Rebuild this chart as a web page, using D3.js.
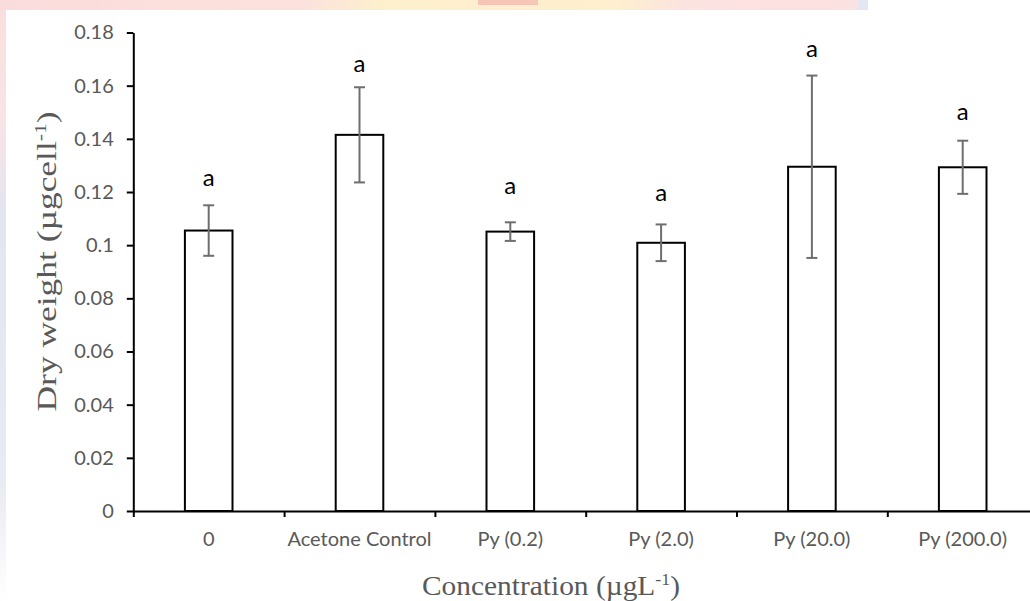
<!DOCTYPE html>
<html>
<head>
<meta charset="utf-8">
<script src="https://cdn.jsdelivr.net/npm/d3@7"></script>
<style>
  html, body { margin: 0; padding: 0; background: #ffffff; }
  svg { display: block; }
</style>
</head>
<body>
<svg id="chart" width="1030" height="601"></svg>
<script>
// Dry weight per cell for each treatment (mean ± error)
const categories = ["0", "Acetone Control", "Py (0.2)", "Py (2.0)", "Py (20.0)", "Py (200.0)"];
const means      = [0.1055, 0.1415, 0.1051, 0.1009, 0.1295, 0.1293];
const errors     = [0.0095, 0.0179, 0.0035, 0.0069, 0.0343, 0.0100];
const groups     = ["a", "a", "a", "a", "a", "a"];
const groupAt    = [0.1257, 0.1687, 0.1230, 0.1201, 0.1742, 0.1506];
const yTicks     = [0, 0.02, 0.04, 0.06, 0.08, 0.1, 0.12, 0.14, 0.16, 0.18];

const svg = d3.select("#chart");
const W = 1030, H = 601;

// page decoration around the plot area
const deco = svg.append("g");
const defs = svg.append("defs");
const gradL = defs.append("linearGradient")
  .attr("id", "edgeL").attr("x1", 0).attr("y1", 0).attr("x2", 0).attr("y2", 1);
gradL.append("stop").attr("offset", "0").attr("stop-color", "#fbdede");
gradL.append("stop").attr("offset", "0.2").attr("stop-color", "#f8e4e6");
gradL.append("stop").attr("offset", "0.35").attr("stop-color", "#e3e5ef");
gradL.append("stop").attr("offset", "0.8").attr("stop-color", "#e9ebf2");
gradL.append("stop").attr("offset", "1").attr("stop-color", "#ffffff");
const gradT = defs.append("linearGradient")
  .attr("id", "edgeT").attr("x1", 0).attr("y1", 0).attr("x2", 1).attr("y2", 0);
gradT.append("stop").attr("offset", "0").attr("stop-color", "#fbdcdc");
gradT.append("stop").attr("offset", "0.36").attr("stop-color", "#fbe3dc");
gradT.append("stop").attr("offset", "0.45").attr("stop-color", "#fdf0cc");
gradT.append("stop").attr("offset", "0.72").attr("stop-color", "#fdefcf");
gradT.append("stop").attr("offset", "0.8").attr("stop-color", "#fbe3e0");
gradT.append("stop").attr("offset", "1").attr("stop-color", "#fbe2e2");
deco.append("rect").attr("x", 0).attr("y", 0).attr("width", 6).attr("height", H).attr("fill", "url(#edgeL)");
deco.append("rect").attr("x", 0).attr("y", 0).attr("width", 858).attr("height", 10).attr("fill", "url(#edgeT)");
deco.append("rect").attr("x", 478).attr("y", 0).attr("width", 60).attr("height", 5).attr("fill", "#f5c6b6");
deco.append("rect").attr("x", 858).attr("y", 0).attr("width", 10).attr("height", 10).attr("fill", "#e4e7f1");

// scales
const x0 = 133.3, step = 150.8;
const x = d3.scaleBand().domain(categories).range([x0, x0 + step * categories.length]).padding(0);
const xIdx = d3.scaleLinear().domain([0, categories.length]).range([x0, x0 + step * categories.length]);
const y = d3.scaleLinear().domain([0, 0.18]).range([511, 32.5]);

const barW = 47.6, capW = 11;
const cx = c => x(c) + x.bandwidth() / 2;

// bars
svg.append("g").selectAll("rect")
  .data(categories)
  .join("rect")
  .attr("x", c => cx(c) - barW / 2)
  .attr("y", (c, i) => y(means[i]))
  .attr("width", barW)
  .attr("height", (c, i) => y(0) - y(means[i]))
  .attr("fill", "#ffffff")
  .attr("stroke", "#000000")
  .attr("stroke-width", 2);

// error bars
const eb = svg.append("g").attr("stroke", "#6e6e6e").attr("stroke-width", 2);
categories.forEach((c, i) => {
  const hi = y(means[i] + errors[i]), lo = y(means[i] - errors[i]);
  eb.append("line").attr("x1", cx(c)).attr("x2", cx(c)).attr("y1", hi).attr("y2", lo);
  eb.append("line").attr("x1", cx(c) - capW / 2).attr("x2", cx(c) + capW / 2).attr("y1", hi).attr("y2", hi);
  eb.append("line").attr("x1", cx(c) - capW / 2).attr("x2", cx(c) + capW / 2).attr("y1", lo).attr("y2", lo);
});

// group letters
svg.append("g").selectAll("text")
  .data(categories)
  .join("text")
  .attr("x", c => cx(c))
  .attr("y", (c, i) => y(groupAt[i]))
  .attr("text-anchor", "middle")
  .attr("dominant-baseline", "central")
  .attr("font-family", "Lato, 'Open Sans', sans-serif")
  .attr("font-size", 24)
  .attr("fill", "#000000")
  .text((c, i) => groups[i]);

// y axis
const yAxis = svg.append("g")
  .attr("transform", `translate(${x0},0)`)
  .call(d3.axisLeft(y).tickValues(yTicks).tickFormat(d3.format("")).tickSize(6.5).tickSizeOuter(0).tickPadding(13));
yAxis.select(".domain").attr("stroke", "#000").attr("stroke-width", 2);
yAxis.selectAll(".tick line").attr("stroke", "#000").attr("stroke-width", 2);
yAxis.selectAll(".tick text")
  .attr("font-family", "Lato, 'Open Sans', sans-serif")
  .attr("font-size", 20)
  .attr("fill", "#595959");

// x axis: boundary ticks between categories
const xAxis = svg.append("g")
  .attr("transform", `translate(0,${y(0)})`)
  .call(d3.axisBottom(xIdx).tickValues(d3.range(categories.length + 1)).tickFormat("").tickSize(6).tickSizeOuter(0));
xAxis.select(".domain").attr("stroke", "#000").attr("stroke-width", 2);
xAxis.selectAll(".tick line").attr("stroke", "#000").attr("stroke-width", 2);

// category labels
svg.append("g").selectAll("text")
  .data(categories)
  .join("text")
  .attr("x", c => cx(c))
  .attr("y", 546)
  .attr("text-anchor", "middle")
  .attr("font-family", "Lato, 'Open Sans', sans-serif")
  .attr("font-size", 20)
  .attr("fill", "#595959")
  .text(c => c);

// axis titles
const serif = "'Liberation Serif', 'Times New Roman', serif";
const yTitle = svg.append("text")
  .attr("transform", "translate(56,261.5) rotate(-90)")
  .attr("text-anchor", "middle")
  .attr("font-family", serif)
  .attr("font-size", 28)
  .attr("textLength", 300)
  .attr("lengthAdjust", "spacingAndGlyphs")
  .attr("fill", "#595959");
yTitle.append("tspan").text("Dry weight (µgcell");
yTitle.append("tspan").attr("dy", -10).attr("font-size", 17).text("-1");
yTitle.append("tspan").attr("dy", 10).text(")");

const xTitle = svg.append("text")
  .attr("x", 551)
  .attr("y", 595)
  .attr("text-anchor", "middle")
  .attr("font-family", serif)
  .attr("font-size", 28)
  .attr("textLength", 258)
  .attr("lengthAdjust", "spacingAndGlyphs")
  .attr("fill", "#595959");
xTitle.append("tspan").text("Concentration (µgL");
xTitle.append("tspan").attr("dy", -10).attr("font-size", 17).text("-1");
xTitle.append("tspan").attr("dy", 10).text(")");
</script>
</body>
</html>
